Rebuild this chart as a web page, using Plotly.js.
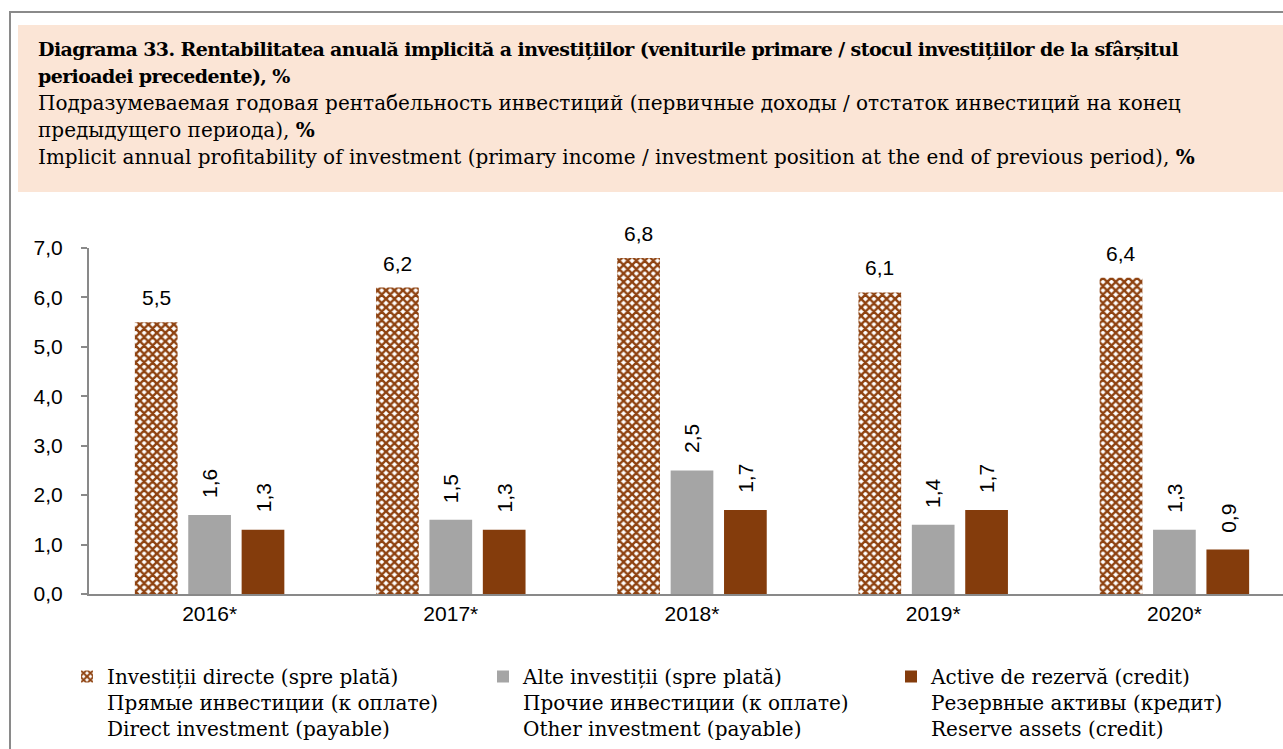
<!DOCTYPE html>
<html>
<head>
<meta charset="utf-8">
<script src="https://cdn.plot.ly/plotly-3.0.1.min.js"></script>
<style>
  html, body { margin: 0; padding: 0; width: 1283px; height: 749px; overflow: hidden; background: #fff; }
  #frame { position: absolute; left: 9px; top: 11px; width: 1400px; height: 800px; border-top: 2px solid #8a8a8a; border-left: 2px solid #8a8a8a; }
  #titlebox { position: absolute; left: 18px; top: 25px; width: 1300px; height: 167px; background: #FBE5D6; }
  #title { position: absolute; left: 38px; top: 36px; width: 1240px; font-family: "DejaVu Serif", serif; font-size: 20px; line-height: 27px; color: #000; white-space: nowrap; }
  #title .head { font-weight: bold; font-size: 19px; letter-spacing: -0.6px; }
  #plot { position: absolute; left: 0; top: 0; width: 1320px; height: 749px; }
</style>
</head>
<body>
<div id="frame"></div>
<div id="titlebox"></div>
<div id="title"><span class="head">Diagrama 33. Rentabilitatea anuală implicită a investițiilor (veniturile primare / stocul investițiilor de la sfârșitul<br>perioadei precedente), %</span><br>Подразумеваемая годовая рентабельность инвестиций (первичные доходы / отстаток инвестиций на конец<br>предыдущего периода), <b>%</b><br>Implicit annual profitability of investment (primary income / investment position at the end of previous period), <b>%</b></div>
<div id="plot"></div>
<script>
// data
var years = ["2016*", "2017*", "2018*", "2019*", "2020*"];
var directInv = [5.5, 6.2, 6.8, 6.1, 6.4];
var otherInv = [1.6, 1.5, 2.5, 1.4, 1.3];
var reserveAssets = [1.3, 1.3, 1.7, 1.7, 0.9];
var yTicks = [0, 1, 2, 3, 4, 5, 6, 7];

var seriesNames = [
  "Investiții directe (spre plată)<br>Прямые инвестиции (к оплате)<br>Direct investment (payable)",
  "Alte investiții (spre plată)<br>Прочие инвестиции (к оплате)<br>Other investment (payable)",
  "Active de rezervă (credit)<br>Резервные активы (кредит)<br>Reserve assets (credit)"
];

var numFont = "Liberation Sans, Arial, sans-serif";
var textFont = "DejaVu Serif, serif";

var trace1 = {
  x: years,
  y: directInv,
  name: seriesNames[0],
  type: "bar",
  legendwidth: 371,
  marker: {
    color: "#8E4210",
    pattern: { shape: "x", size: 6, solidity: 0.65, fgcolor: "#8E4210", bgcolor: "#ffffff", fillmode: "replace" }
  },
  hoverinfo: "y"
};

var trace2 = {
  x: years,
  y: otherInv,
  name: seriesNames[1],
  type: "bar",
  legendwidth: 363,
  marker: { color: "#A5A5A5" },
  hoverinfo: "y"
};

var trace3 = {
  x: years,
  y: reserveAssets,
  name: seriesNames[2],
  type: "bar",
  legendwidth: 330,
  marker: { color: "#843C0C" },
  hoverinfo: "y"
};

var data = [trace1, trace2, trace3];

// value labels above the bars
var fmt = function(v) { return v.toFixed(1).replace(".", ","); };
var slotPx = 53.4;
var annotations = [];
[directInv, otherInv, reserveAssets].forEach(function(vals, i) {
  vals.forEach(function(v, j) {
    annotations.push({
      x: years[j], y: v, xref: "x", yref: "y",
      text: fmt(v),
      showarrow: false,
      xshift: (i - 1) * slotPx,
      yanchor: "bottom",
      yshift: i === 0 ? 11 : 15,
      textangle: i === 0 ? 0 : -90,
      font: { family: numFont, size: 21, color: "#000" }
    });
  });
});

var layout = {
  width: 1320,
  height: 749,
  margin: { l: 89, r: 25, t: 248, b: 155 },
  paper_bgcolor: "rgba(0,0,0,0)",
  plot_bgcolor: "rgba(0,0,0,0)",
  separators: ", ",
  barmode: "group",
  bargap: 0.336,
  bargroupgap: 0.2,
  showlegend: true,
  xaxis: {
    type: "category",
    showline: true,
    linecolor: "#898989",
    linewidth: 2,
    ticks: "",
    showgrid: false,
    tickfont: { family: numFont, size: 21, color: "#000" },
    fixedrange: true
  },
  yaxis: {
    range: [0, 7],
    tickvals: yTicks,
    tickformat: ".1f",
    showline: true,
    linecolor: "#898989",
    linewidth: 2,
    ticks: "outside",
    ticklen: 6,
    tickwidth: 2,
    tickcolor: "#898989",
    showgrid: false,
    zeroline: false,
    ticklabelstandoff: 14,
    tickfont: { family: numFont, size: 21, color: "#000" },
    fixedrange: true
  },
  legend: {
    orientation: "h",
    xref: "container",
    yref: "container",
    x: 67 / 1320,
    y: 1 - 657 / 749,
    xanchor: "left",
    yanchor: "top",
    valign: "top",
    font: { family: textFont, size: 20, color: "#000" },
    bgcolor: "rgba(0,0,0,0)"
  },
  annotations: annotations
};

Plotly.newPlot("plot", data, layout, { displayModeBar: false, staticPlot: true });
</script>
</body>
</html>
